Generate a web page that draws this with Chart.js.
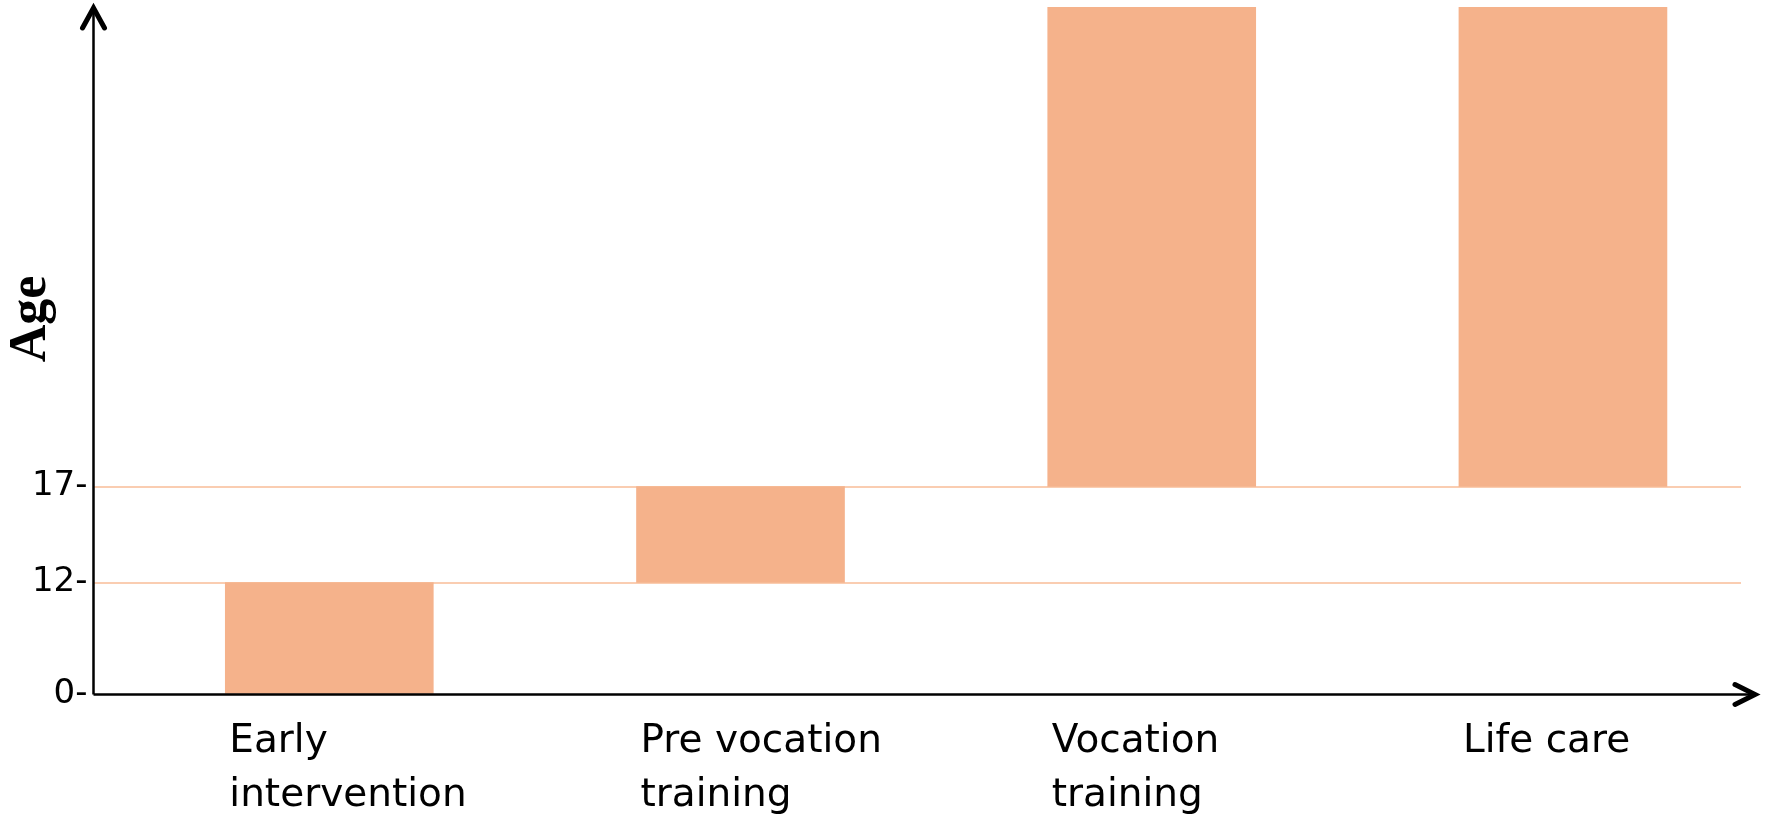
<!DOCTYPE html>
<html>
<head>
<meta charset="utf-8">
<title>Age by programme</title>
<script src="https://cdn.jsdelivr.net/npm/chart.js@4.4.0/dist/chart.umd.min.js"></script>
<style>
  html, body { margin: 0; padding: 0; background: #ffffff; }
  #wrap { width: 1765px; height: 822px; }
</style>
</head>
<body>
<div id="wrap"><canvas id="ageChart"></canvas></div>
<script>
// programme stages and the age range each one covers
const categories = ['Early intervention', 'Pre vocation training', 'Vocation training', 'Life care'];
const categoryLines = [['Early', 'intervention'], ['Pre vocation', 'training'], ['Vocation', 'training'], ['Life care']];
const ageFrom = [0, 12, 17, 17];
const ageTo = [12, 17, 60, 60];   // open ended stages run to the top of the axis
const ageTicks = [0, 12, 17];
const ageMax = 60;

// the age axis is not linear in the picture: 0-12, 12-17 and 17+ get their own stretch
const AGE_BREAKS = [0, 12, 17, ageMax];
const AGE_STOPS = [0, 0.1629, 0.3025, 1];

class AgeScale extends Chart.LinearScale {
    toDecimal(v) {
        if (v <= AGE_BREAKS[0]) return AGE_STOPS[0];
        for (let i = 1; i < AGE_BREAKS.length; i++) {
            if (v <= AGE_BREAKS[i]) {
                const t = (v - AGE_BREAKS[i - 1]) / (AGE_BREAKS[i] - AGE_BREAKS[i - 1]);
                return AGE_STOPS[i - 1] + t * (AGE_STOPS[i] - AGE_STOPS[i - 1]);
            }
        }
        return AGE_STOPS[AGE_STOPS.length - 1];
    }
    getPixelForValue(v) {
        return this.getPixelForDecimal(this.toDecimal(v));
    }
    getValueForPixel(p) {
        const d = this.getDecimalForPixel(p);
        for (let i = 1; i < AGE_STOPS.length; i++) {
            if (d <= AGE_STOPS[i]) {
                const t = (d - AGE_STOPS[i - 1]) / (AGE_STOPS[i] - AGE_STOPS[i - 1]);
                return AGE_BREAKS[i - 1] + t * (AGE_BREAKS[i] - AGE_BREAKS[i - 1]);
            }
        }
        return AGE_BREAKS[AGE_BREAKS.length - 1];
    }
}
AgeScale.id = 'age';
Chart.register(AgeScale);

// black axes with open arrow heads, plus the rotated serif "Age" label
const arrowAxes = {
    id: 'arrowAxes',
    afterDatasetsDraw(chart) {
        const { ctx, chartArea } = chart;
        const x0 = chartArea.left;
        const y0 = chart.scales.y.getPixelForValue(0);
        const top = chartArea.top;
        const xEnd = chartArea.right + 15;

        ctx.save();
        ctx.strokeStyle = '#000000';
        ctx.lineWidth = 2.5;
        ctx.beginPath();
        ctx.moveTo(x0, y0);
        ctx.lineTo(x0, top);
        ctx.moveTo(x0, y0);
        ctx.lineTo(xEnd, y0);
        ctx.stroke();

        ctx.lineWidth = 5;
        ctx.lineCap = 'round';
        ctx.lineJoin = 'miter';
        ctx.beginPath();
        ctx.moveTo(x0 - 11, top + 21);
        ctx.lineTo(x0, top + 1);
        ctx.lineTo(x0 + 11, top + 21);
        ctx.moveTo(xEnd - 21, y0 - 10);
        ctx.lineTo(xEnd - 1, y0);
        ctx.lineTo(xEnd - 21, y0 + 10);
        ctx.stroke();

        ctx.fillStyle = '#000000';
        ctx.font = 'bold 52px "Liberation Serif", "DejaVu Serif", serif';
        ctx.textAlign = 'center';
        ctx.textBaseline = 'middle';
        ctx.translate(32, 319);
        ctx.rotate(-Math.PI / 2);
        ctx.fillText('Age', 0, 0);
        ctx.restore();
    }
};

const ageChart = new Chart(document.getElementById('ageChart').getContext('2d'), {
    type: 'bar',
    data: {
        datasets: [{
            label: 'Age',
            data: categories.map((c, i) => ({ x: i, y: [ageFrom[i], ageTo[i]] })),
            backgroundColor: '#F5B28B',
            borderWidth: 0,
            barThickness: 208
        }]
    },
    options: {
        responsive: true,
        maintainAspectRatio: false,
        animation: false,
        layout: { padding: { top: 7, right: 24, left: 0, bottom: 0 } },
        plugins: {
            legend: { display: false },
            tooltip: { enabled: false }
        },
        scales: {
            x: {
                type: 'linear',
                offset: false,
                min: -0.5734,
                max: 3.433,
                grid: { display: false, drawTicks: false },
                border: { display: false },
                afterBuildTicks: (scale) => {
                    scale.ticks = categories.map((c, i) => ({ value: i }));
                },
                afterFit: (scale) => {
                    scale.height = 127.5;
                    scale.paddingLeft = 0;
                    scale.paddingRight = 0;
                },
                ticks: {
                    autoSkip: false,
                    maxRotation: 0,
                    align: 'start',
                    labelOffset: -100,
                    padding: 20,
                    color: '#000000',
                    font: { family: '"DejaVu Sans", sans-serif', size: 39, lineHeight: 1.385 },
                    callback: (value, index) => categoryLines[index]
                }
            },
            y: {
                type: 'age',
                min: 0,
                max: ageMax,
                grid: {
                    drawTicks: false,
                    lineWidth: 2,
                    color: (ctx) => (ctx.tick && ctx.tick.value === 0) ? 'rgba(0,0,0,0)' : '#FACDB1'
                },
                border: { display: false },
                afterBuildTicks: (scale) => {
                    scale.ticks = ageTicks.map(v => ({ value: v }));
                },
                afterFit: (scale) => {
                    scale.width = 93.5;
                    scale.paddingTop = 0;
                    scale.paddingBottom = 0;
                },
                ticks: {
                    padding: 6,
                    color: '#000000',
                    font: { family: '"DejaVu Sans", sans-serif', size: 34 },
                    callback: (value) => value + '-'
                }
            }
        }
    },
    plugins: [arrowAxes]
});
</script>
</body>
</html>
